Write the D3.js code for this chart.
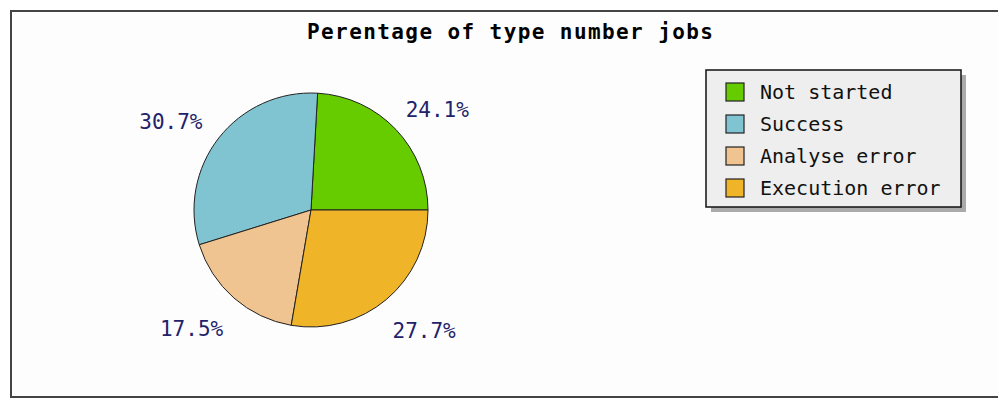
<!DOCTYPE html>
<html>
<head>
<meta charset="utf-8">
<script src="https://cdn.jsdelivr.net/npm/d3@7"></script>
<style>
  body { margin: 0; background: #fff; }
  svg { display: block; }
</style>
</head>
<body>
<svg id="canvas" width="998" height="400"></svg>
<script>
// data
var categories = ["Not started", "Success", "Analyse error", "Execution error"];
var values = [24.1, 30.7, 17.5, 27.7];
var colors = ["#66cc00", "#80c4d2", "#f0c490", "#f0b428"];
var title = "Perentage of type number jobs";

var svg = d3.select('#canvas');

// frame
svg.append('rect')
  .attr('x', 11).attr('y', 11)
  .attr('width', 1000).attr('height', 386)
  .attr('fill', '#fdfdfd')
  .attr('stroke', '#444').attr('stroke-width', 2);

// title
svg.append('text')
  .attr('x', 510).attr('y', 39)
  .attr('text-anchor', 'middle')
  .attr('font-family', 'DejaVu Sans Mono')
  .attr('font-weight', 'bold')
  .attr('font-size', 21)
  .attr('textLength', 406)
  .attr('lengthAdjust', 'spacing')
  .attr('fill', '#000')
  .text(title);

// ************************************************************************************** //
// Pie

var cx = 311, cy = 210, radius = 117;
var pie = d3.pie().sort(null)
  .startAngle(Math.PI / 2)              // start at 3 o'clock
  .endAngle(Math.PI / 2 - 2 * Math.PI); // counter-clockwise
var arcs = pie(values);
var arc = d3.arc().innerRadius(0).outerRadius(radius);
var labelArc = d3.arc().innerRadius(160).outerRadius(160);

var g = svg.append('g').attr('transform', 'translate(' + cx + ',' + cy + ')');

g.selectAll('path.slice')
  .data(arcs)
  .enter().append('path')
  .attr('class', 'slice')
  .attr('d', arc)
  .attr('fill', function(d, i) { return colors[i]; })
  .attr('stroke', '#222')
  .attr('stroke-width', 1);

var total = d3.sum(values);
g.selectAll('text.label')
  .data(arcs)
  .enter().append('text')
  .attr('class', 'label')
  .attr('transform', function(d) {
    var c = labelArc.centroid(d);
    // nudge labels outward horizontally, top ones a bit down
    var x = c[0] + (c[0] < 0 ? -14 : 10);
    var y = c[1] + (c[1] < 0 ? 10 : -2);
    return 'translate(' + x + ',' + y + ')';
  })
  .attr('dy', '0.35em')
  .attr('text-anchor', 'middle')
  .attr('font-family', 'DejaVu Sans Mono')
  .attr('font-size', 21)
  .attr('fill', '#22226a')
  .text(function(d) { return (d.value / total * 100).toFixed(1) + '%'; });

// ************************************************************************************** //
// Legend

var lx = 706, ly = 70, lw = 255, lh = 137;
svg.append('rect')
  .attr('x', lx + 5).attr('y', ly + 5)
  .attr('width', lw).attr('height', lh)
  .attr('fill', '#aaa');
svg.append('rect')
  .attr('x', lx).attr('y', ly)
  .attr('width', lw).attr('height', lh)
  .attr('fill', '#eeeeee')
  .attr('stroke', '#111').attr('stroke-width', 1.5);

var yLegend = d3.scalePoint().domain(categories).range([92, 188]);

var items = svg.selectAll('g.legend-item')
  .data(categories)
  .enter().append('g')
  .attr('class', 'legend-item')
  .attr('transform', function(d) { return 'translate(0,' + yLegend(d) + ')'; });

items.append('rect')
  .attr('x', 726).attr('y', -9)
  .attr('width', 18).attr('height', 18)
  .attr('fill', function(d, i) { return colors[i]; })
  .attr('stroke', '#222').attr('stroke-width', 1.2);

items.append('text')
  .attr('x', 760).attr('dy', '0.36em')
  .attr('font-family', 'DejaVu Sans Mono')
  .attr('font-size', 20)
  .attr('fill', '#111')
  .text(function(d) { return d; });
</script>
</body>
</html>
